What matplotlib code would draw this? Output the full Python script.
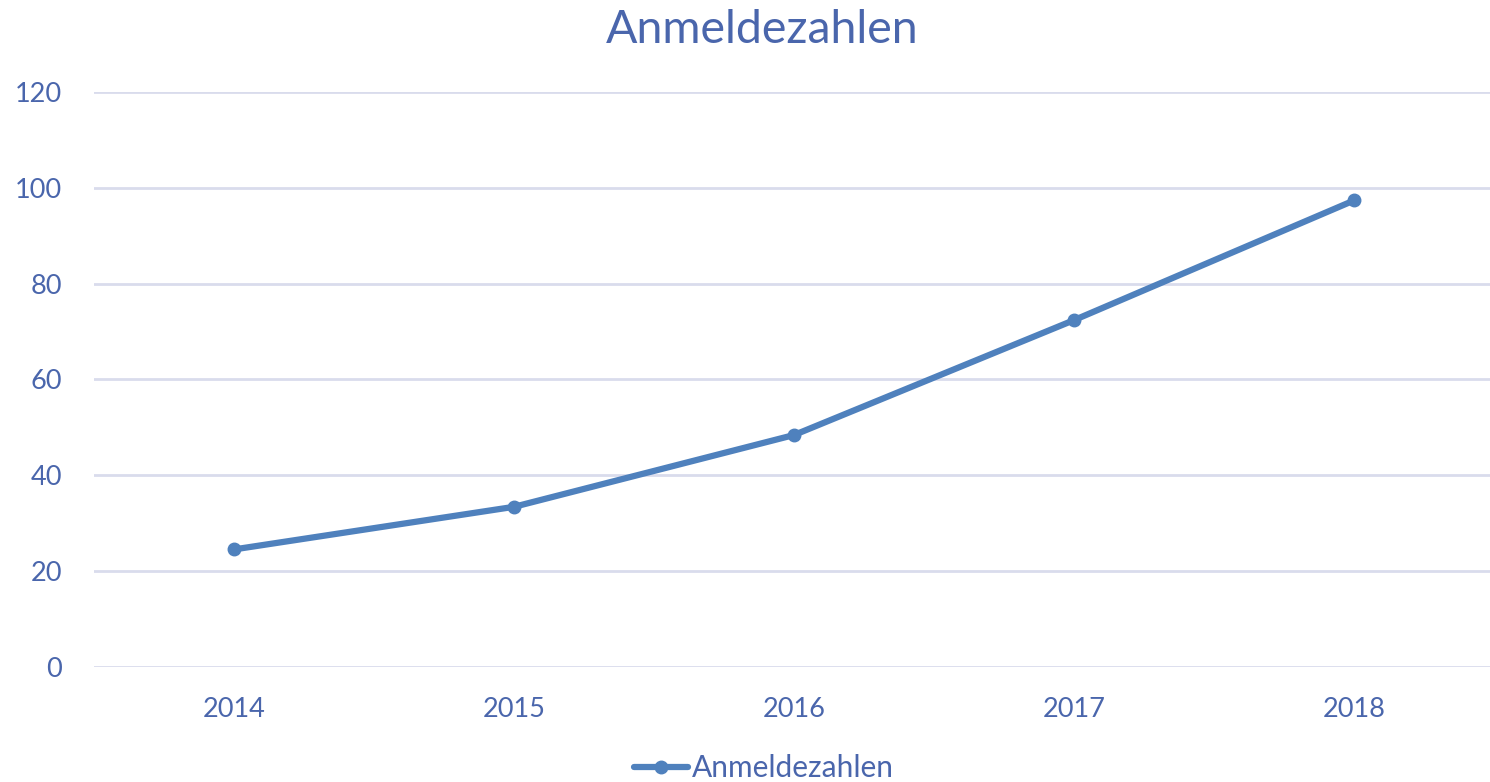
import numpy as np
import matplotlib
matplotlib.use('Agg')
import matplotlib.pyplot as plt

# data
years = ['2014', '2015', '2016', '2017', '2018']
anmeldungen = [24.5, 33.4, 48.4, 72.4, 97.4]
y_ticks = [0, 20, 40, 60, 80, 100, 120]

text_color = '#4A66AC'
line_color = '#4F81BD'
grid_color = '#D9DCEC'

plt.rcParams['font.family'] = ['Lato', 'DejaVu Sans']

fig = plt.figure(figsize=(14.9, 7.82), dpi=100)
ax = fig.add_axes([94 / 1490, (782 - 666.7) / 782, 1400 / 1490, (666.7 - 92.3) / 782])

x = np.arange(len(years))
ax.plot(x, anmeldungen, color=line_color, linewidth=4.5, marker='o',
        markersize=9, solid_capstyle='round', label='Anmeldezahlen', zorder=3)

ax.set_xlim(-0.5, len(years) - 0.5)
ax.set_ylim(0, 120)
ax.set_yticks(y_ticks)
ax.set_xticks(x)
ax.set_xticklabels(years)

ax.grid(axis='y', color=grid_color, linewidth=2)
ax.set_axisbelow(True)
for s in ax.spines.values():
    s.set_visible(False)
ax.tick_params(length=0, labelsize=19.5, colors=text_color)
ax.tick_params(axis='y', pad=23)
ax.tick_params(axis='x', pad=22)
for lab in ax.get_yticklabels():
    lab.set_horizontalalignment('right')

fig.text(762 / 1490, 1 - 30 / 782, 'Anmeldezahlen', ha='center', va='center',
         fontsize=33.5, color=text_color)

fig.legend(loc='center', bbox_to_anchor=(764 / 1490, 1 - 768 / 782), frameon=False,
           fontsize=21.5, labelcolor=text_color, handlelength=1.8, handletextpad=0.15,
           borderaxespad=0)

fig.savefig('out.png', dpi=100)
